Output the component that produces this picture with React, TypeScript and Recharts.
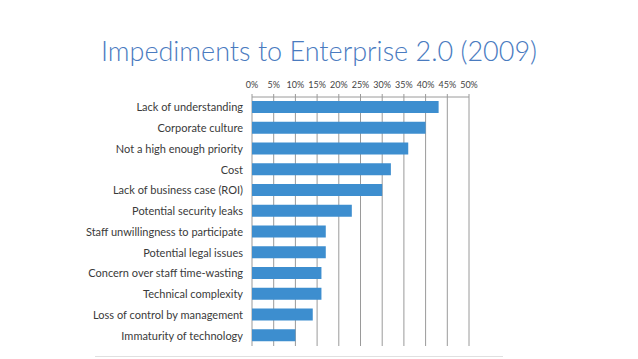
import React from "react";
import { Bar, BarChart, CartesianGrid, XAxis, YAxis } from "recharts";

const categories = [
  "Lack of understanding",
  "Corporate culture",
  "Not a high enough priority",
  "Cost",
  "Lack of business case (ROI)",
  "Potential security leaks",
  "Staff unwillingness to participate",
  "Potential legal issues",
  "Concern over staff time-wasting",
  "Technical complexity",
  "Loss of control by management",
  "Immaturity  of technology",
];
const shares = [43, 40, 36, 32, 30, 23, 17, 17, 16, 16, 14, 10];
const xTicks = [0, 5, 10, 15, 20, 25, 30, 35, 40, 45, 50];

const data = categories.map((name, i) => ({ name, value: shares[i] }));

export default function App() {
  return (
    <div style={{ position: "absolute", left: 0, top: 0, width: 638, height: 359, background: "#fff" }}>
      <div
        style={{
          position: "absolute",
          top: 34,
          left: 0,
          width: 638,
          textAlign: "center",
          fontFamily: "Lato, sans-serif",
          fontWeight: 300,
          fontSize: 27,
          color: "#4a7bbf",
        }}
      >
        Impediments to Enterprise 2.0 (2009)
      </div>
      <div style={{ position: "absolute" }}>
        <BarChart
          width={638}
          height={359}
          data={data}
          layout="vertical"
          margin={{ top: 67, right: 169, left: 0, bottom: 13 }}
        >
          <CartesianGrid horizontal={false} stroke="#9a9a9a" />
          <XAxis
            type="number"
            orientation="top"
            domain={[0, 50]}
            ticks={xTicks}
            interval={0}
            tickFormatter={(v) => `${v}%`}
            height={30}
            tickSize={3}
            tickMargin={6}
            stroke="#9a9a9a"
            tick={{ fill: "#444", fontSize: 9, fontFamily: "Lato, sans-serif" }}
          />
          <YAxis
            type="category"
            dataKey="name"
            width={252}
            axisLine={false}
            tickLine={false}
            tickSize={0}
            tickMargin={9}
            interval={0}
            tick={{ fill: "#3a3a3a", fontSize: 11, fontFamily: "Lato, sans-serif" }}
          />
          <Bar dataKey="value" fill="#3d8ecf" barSize={12} isAnimationActive={false} />
        </BarChart>
      </div>
      <div style={{ position: "absolute", top: 356, left: 95, width: 408, height: 1, background: "#e0e0e0" }} />
    </div>
  );
}
